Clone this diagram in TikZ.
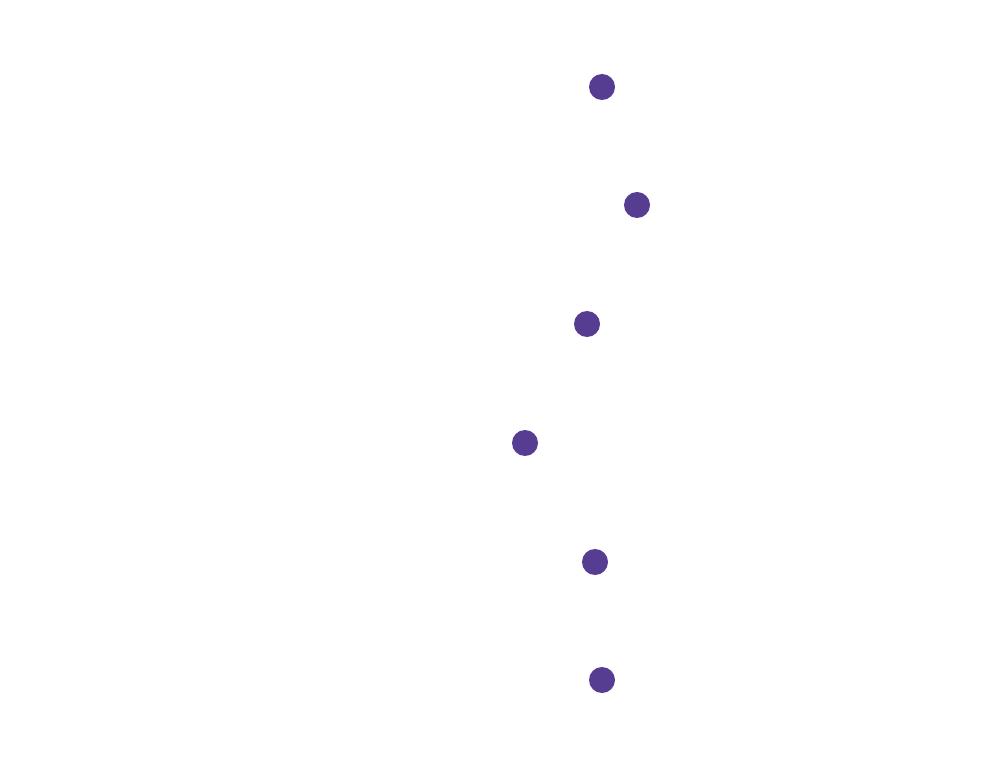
\documentclass[tikz,border=0pt]{standalone}
\definecolor{dotpurple}{RGB}{86,61,145}
\begin{document}
\begin{tikzpicture}[x=1pt,y=-1pt,
  dotnode/.style={circle,fill=dotpurple,draw=none,minimum size=26pt,inner sep=0pt}]
\useasboundingbox[fill=white] (0,0) rectangle (986,762);
\node[dotnode] (d1) at (602,87) {};
\node[dotnode] (d2) at (637,205) {};
\node[dotnode] (d3) at (587,324) {};
\node[dotnode] (d4) at (525,443) {};
\node[dotnode] (d5) at (595,562) {};
\node[dotnode] (d6) at (602,680) {};
\end{tikzpicture}
\end{document}
